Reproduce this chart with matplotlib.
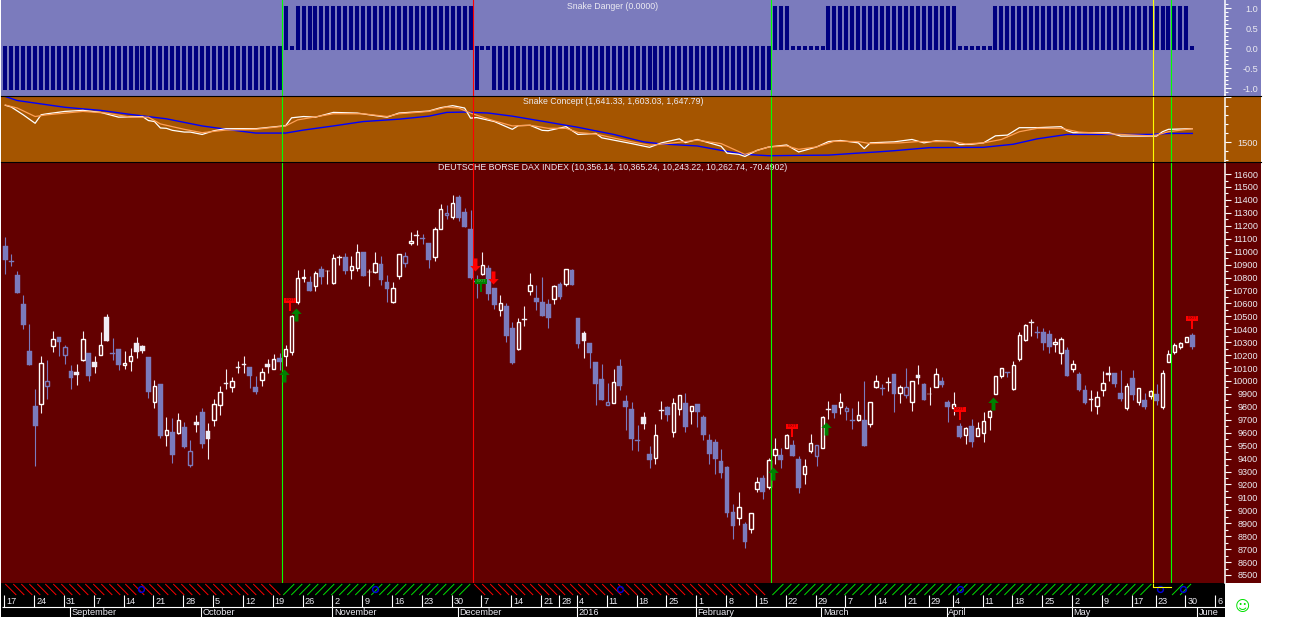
import matplotlib
matplotlib.use('Agg')
import matplotlib.pyplot as plt
from matplotlib.collections import LineCollection
from matplotlib.patches import Rectangle
from matplotlib.path import Path
from matplotlib.ticker import FixedLocator, FixedFormatter

plt.rcParams['font.family'] = ['Liberation Sans', 'DejaVu Sans']

# DAX daily candles, one entry per bar
body_top = [
    11043, 10927, 10819, 10595, 10231, 9806, 10136, 9997, 10321, 10340,
    10260, 10077, 10069, 10321, 10216, 10146, 10275, 10494, 10215, 10247,
    10136, 10190, 10291, 10267, 10185, 9958, 9976, 9618, 9605, 9695,
    9644, 9456, 9682, 9760, 9613, 9819, 9912, 9981, 9997, 10108,
    10131, 10108, 9953, 10066, 10131, 10167, 10180, 10244, 10499, 10793,
    10806, 10762, 10832, 10863, 10852, 10950, 10955, 10955, 10891, 10994,
    10994, 10845, 10914, 10901, 10762, 10716, 10979, 10963, 11084, 11128,
    11105, 11064, 11172, 11327, 11296, 11378, 11419, 11303, 11172, 10770,
    10894, 10870, 10718, 10605, 10579, 10409, 10453, 10479, 10739, 10641,
    10610, 10595, 10731, 10749, 10863, 10858, 10486, 10370, 10293, 10146,
    10015, 9834, 9989, 10115, 9845, 9783, 9541, 9721, 9435, 9579,
    9775, 9798, 9827, 9889, 9829, 9804, 9822, 9721, 9543, 9528,
    9381, 9335, 8987, 9023, 8894, 8976, 9216, 9249, 9386, 9471,
    9427, 9579, 9505, 9396, 9340, 9517, 9502, 9724, 9783, 9814,
    9834, 9788, 9698, 9734, 9698, 9835, 9997, 9943, 9989, 10054,
    9956, 9956, 9997, 10046, 9977, 9902, 10051, 10000, 9837, 9825,
    9652, 9634, 9649, 9634, 9688, 9765, 10036, 10098, 10067, 10121,
    10353, 10430, 10453, 10379, 10379, 10363, 10304, 10322, 10239, 10129,
    10054, 9930, 9861, 9873, 9982, 10059, 10062, 9907, 9959, 10023,
    9948, 9853, 9920, 9899, 10059, 10206, 10276, 10291, 10337, 10355,
]
body_bot = [
    10937, 10922, 10682, 10435, 10126, 9654, 9819, 9958, 10273, 10301,
    10203, 10025, 10048, 10164, 10041, 10110, 10203, 10311, 10211, 10126,
    10121, 10157, 10226, 10234, 9917, 9840, 9577, 9585, 9430, 9600,
    9492, 9347, 9662, 9515, 9554, 9695, 9811, 9974, 9950, 10102,
    10126, 10041, 9917, 10005, 10110, 10090, 10149, 10190, 10221, 10613,
    10793, 10698, 10731, 10806, 10847, 10754, 10948, 10852, 10855, 10876,
    10814, 10840, 10845, 10783, 10713, 10608, 10814, 10909, 11064, 11123,
    11100, 10937, 10961, 11177, 11280, 11270, 11262, 11193, 10798, 10765,
    10829, 10672, 10590, 10546, 10350, 10139, 10244, 10474, 10693, 10610,
    10502, 10486, 10631, 10649, 10752, 10742, 10288, 10309, 10216, 9979,
    9853, 9816, 9832, 9963, 9798, 9551, 9535, 9667, 9389, 9407,
    9770, 9737, 9608, 9785, 9644, 9767, 9760, 9582, 9435, 9396,
    9288, 8979, 8878, 8943, 8755, 8858, 9167, 9141, 9182, 9430,
    9389, 9484, 9420, 9172, 9283, 9461, 9422, 9484, 9778, 9752,
    9801, 9770, 9693, 9700, 9500, 9670, 9956, 9938, 9984, 9899,
    9910, 9894, 9840, 10023, 9853, 9897, 9956, 9969, 9799, 9794,
    9567, 9585, 9526, 9577, 9600, 9719, 9902, 10038, 10062, 9935,
    10167, 10317, 10446, 10373, 10294, 10265, 10288, 10219, 10038, 10093,
    9930, 9830, 9855, 9809, 9933, 10049, 9977, 9861, 9794, 9892,
    9835, 9799, 9881, 9845, 9801, 10144, 10221, 10260, 10299, 10265,
]
highs = [
    11113, 10979, 10850, 10662, 10440, 9935, 10190, 10159, 10386, 10340,
    10278, 10121, 10128, 10386, 10216, 10190, 10376, 10515, 10332, 10247,
    10229, 10252, 10340, 10278, 10185, 10005, 9976, 9718, 9711, 9749,
    9680, 9541, 9737, 9788, 9675, 9858, 9958, 10090, 10028, 10151,
    10190, 10108, 10038, 10097, 10167, 10208, 10213, 10275, 10510, 10858,
    10863, 10809, 10850, 10888, 10858, 10979, 10971, 10986, 10966, 11056,
    10994, 10863, 10997, 10963, 10816, 10762, 10979, 10994, 11149, 11164,
    11133, 11064, 11187, 11368, 11360, 11437, 11437, 11334, 11321, 10816,
    10997, 10894, 10718, 10662, 10602, 10455, 10486, 10579, 10832, 10742,
    10803, 10633, 10742, 10765, 10863, 10865, 10486, 10386, 10293, 10146,
    10131, 9984, 10092, 10169, 9891, 9837, 9659, 9760, 9497, 9667,
    9845, 9806, 9865, 9889, 9907, 9804, 9822, 9737, 9590, 9551,
    9474, 9342, 9048, 9141, 8909, 8976, 9257, 9273, 9404, 9559,
    9481, 9587, 9543, 9420, 9396, 9590, 9502, 9731, 9845, 9814,
    9907, 9806, 9791, 9845, 10000, 9835, 10044, 9977, 10028, 10054,
    9971, 10100, 9997, 10123, 9982, 9951, 10098, 10028, 9853, 9912,
    9675, 9644, 9706, 9683, 9760, 9776, 10036, 10098, 10069, 10154,
    10379, 10440, 10479, 10425, 10410, 10394, 10332, 10340, 10263, 10162,
    10069, 9969, 9930, 9922, 10077, 10116, 10062, 10085, 9982, 10085,
    9948, 9907, 9930, 9977, 10085, 10237, 10291, 10299, 10337, 10371,
]
lows = [
    10829, 10888, 10682, 10404, 10126, 9345, 9755, 9863, 10226, 10195,
    10133, 9940, 9971, 10157, 10002, 10064, 10203, 10311, 10164, 10087,
    10095, 10079, 10180, 10218, 9871, 9793, 9561, 9499, 9368, 9592,
    9484, 9337, 9608, 9484, 9399, 9654, 9739, 9940, 9917, 10064,
    10064, 9948, 9901, 9963, 10064, 10090, 10087, 10118, 10203, 10597,
    10767, 10698, 10698, 10752, 10752, 10752, 10894, 10829, 10791, 10852,
    10814, 10736, 10837, 10744, 10613, 10605, 10791, 10883, 11048, 11053,
    11061, 10876, 10930, 11177, 11252, 11252, 11239, 11193, 10790, 10644,
    10819, 10626, 10559, 10504, 10303, 10131, 10239, 10427, 10667, 10548,
    10502, 10412, 10597, 10633, 10736, 10742, 10254, 10180, 10102, 9814,
    9853, 9816, 9832, 9930, 9621, 9466, 9458, 9628, 9327, 9358,
    9706, 9690, 9566, 9737, 9605, 9667, 9644, 9543, 9358, 9280,
    9250, 8948, 8778, 8889, 8708, 8824, 9144, 9087, 9164, 9358,
    9327, 9484, 9420, 9133, 9203, 9443, 9342, 9484, 9706, 9713,
    9744, 9698, 9628, 9693, 9500, 9647, 9948, 9892, 9925, 9760,
    9830, 9868, 9770, 9977, 9853, 9814, 9951, 9956, 9683, 9737,
    9559, 9513, 9490, 9577, 9528, 9621, 9902, 10023, 10031, 9930,
    10154, 10309, 10348, 10332, 10239, 10216, 10224, 10131, 10038, 10069,
    9922, 9822, 9768, 9745, 9884, 10000, 9953, 9845, 9776, 9853,
    9814, 9783, 9861, 9814, 9783, 10144, 10209, 10247, 10299, 10247,
]
# B filled blue, H hollow blue, W hollow white, F filled white
kinds = (
    'BBBBBBWHWB' 'HBFWBFWFBB' 'WWFFBWBWBW' 'BHFBFWWFWF'
    'FBBWFWBWWW' 'WBWBFWFBWW' 'BFWBBWWHWF' 'BBWWHWBBBB'
    'WBBWBBWFWB' 'BBWBWBBFBB' 'BHWBBBBFBW' 'FBWWBWBBBB'
    'BBBWBWWBWW' 'BWBBWWHWFB' 'WHBWBWWBFB' 'WHWFBFWBBW'
    'BWBWWWWWBW' 'WWFBBBWWBW' 'BBFWWFBBWB' 'WBWBWWWWWB'
)

# Snake Danger state per bar
danger = [
    -1, -1, -1, -1, -1, -1, -1, -1, -1, -1, -1, -1, -1, -1, -1, -1, -1, -1, -1, -1,
    -1, -1, -1, -1, -1, -1, -1, -1, -1, -1, -1, -1, -1, -1, -1, -1, -1, -1, -1, -1,
    -1, -1, -1, -1, -1, -1, -1, 1, 0, 1, 1, 1, 1, 1, 1, 1, 1, 1, 1, 1,
    1, 1, 1, 1, 1, 1, 1, 1, 1, 1, 1, 1, 1, 1, 1, 1, 1, 1, 1, -1,
    0, 0, -1, -1, -1, -1, -1, -1, -1, -1, -1, -1, -1, -1, -1, -1, -1, -1, -1, -1,
    -1, -1, -1, -1, -1, -1, -1, -1, -1, -1, -1, -1, -1, -1, -1, -1, -1, -1, -1, -1,
    -1, -1, -1, -1, -1, -1, -1, -1, -1, 1, 1, 1, 0, 0, 0, 0, 0, 0, 1, 1,
    1, 1, 1, 1, 1, 1, 1, 1, 1, 1, 1, 1, 1, 1, 1, 1, 1, 1, 1, 1,
    0, 0, 0, 0, 0, 0, 1, 1, 1, 1, 1, 1, 1, 1, 1, 1, 1, 1, 1, 1,
    1, 1, 1, 1, 1, 1, 1, 1, 1, 1, 1, 1, 1, 1, 1, 1, 1, 1, 1, 0,
]

# Snake Concept lines, sampled where they bend
blue_x = [0, 2, 6, 10, 16, 21, 27, 33, 38, 42, 47, 50, 55, 60, 66, 71, 74, 77, 81, 85,
          91, 96, 102, 107, 110, 116, 120, 124, 128, 133, 138, 143, 146, 149, 155, 164,
          169, 173, 178, 183, 192, 195, 199]
blue_y = [2000, 1956, 1919, 1882, 1848, 1804, 1756, 1678, 1633, 1600, 1600, 1633, 1678,
          1726, 1752, 1785, 1826, 1830, 1819, 1785, 1719, 1663, 1585, 1504, 1481, 1459,
          1411, 1367, 1352, 1356, 1359, 1381, 1393, 1407, 1441, 1444, 1478, 1537, 1585,
          1585, 1585, 1596, 1596]
orange_x = [0, 2, 5, 7, 13, 17, 21, 24, 26, 30, 33, 37, 42, 47, 49, 55, 60, 64, 66, 71,
            74, 76, 78, 81, 85, 88, 91, 94, 96, 99, 105, 108, 111, 116, 120, 124, 128,
            131, 133, 136, 139, 143, 145, 150, 153, 159, 161, 164, 167, 170, 173, 177,
            180, 187, 192, 193, 195, 199]
orange_y = [1907, 1874, 1781, 1800, 1837, 1819, 1774, 1774, 1700, 1641, 1604, 1633, 1641,
            1678, 1744, 1811, 1811, 1781, 1811, 1837, 1885, 1874, 1819, 1752, 1678, 1685,
            1652, 1652, 1607, 1589, 1504, 1467, 1485, 1522, 1485, 1367, 1448, 1459, 1422,
            1448, 1511, 1507, 1485, 1493, 1507, 1507, 1481, 1493, 1530, 1615, 1652, 1652,
            1611, 1585, 1570, 1578, 1615, 1648]
white_x = [0, 1, 3, 5, 6, 7, 10, 13, 16, 19, 23, 24, 25, 26, 27, 28, 30, 31, 33, 35, 37,
           42, 47, 48, 50, 52, 55, 59, 61, 64, 66, 71, 73, 75, 77, 78, 79, 82, 85, 86,
           88, 90, 91, 94, 96, 99, 100, 105, 108, 110, 113, 114, 116, 120, 121, 123, 124,
           126, 128, 131, 133, 136, 138, 140, 143, 144, 145, 149, 152, 154, 156, 159, 160,
           162, 164, 166, 168, 170, 173, 177, 178, 179, 183, 185, 187, 191, 193, 194, 195, 199]
white_y = [1904, 1885, 1800, 1707, 1800, 1811, 1837, 1848, 1826, 1774, 1781, 1737, 1726,
           1656, 1652, 1630, 1611, 1611, 1585, 1626, 1648, 1648, 1681, 1767, 1781, 1774,
           1826, 1819, 1800, 1774, 1819, 1841, 1878, 1900, 1874, 1763, 1770, 1726, 1641,
           1681, 1685, 1630, 1626, 1670, 1585, 1596, 1548, 1485, 1444, 1493, 1537, 1496,
           1530, 1456, 1381, 1367, 1344, 1411, 1448, 1470, 1393, 1448, 1507, 1519, 1493,
           1430, 1493, 1504, 1530, 1493, 1515, 1507, 1474, 1478, 1493, 1570, 1578, 1659,
           1659, 1670, 1626, 1604, 1604, 1604, 1567, 1567, 1567, 1615, 1641, 1648]

# signals
signal_bars = [46.47, 78.46, 128.4, 192.46, 195.5]
signal_colors = ['#00ff00', '#ff0000', '#00ff00', '#ffff00', '#00ff00']
up_x = [46.7, 48.7, 128.7, 137.6, 165.6]
up_price = [10090, 10564, 9332, 9680, 9874]
down_x = [78.8, 81.8]
down_price = [10852, 10752]
flag_x = [47.8, 79.8, 131.9, 160, 199]
flag_price = [10541, 10690, 9566, 9698, 10402]
flag_colors = ['#ff0000', '#008000', '#ff0000', '#ff0000', '#ff0000']
circle_x = [22.7, 62, 103, 160, 193.5, 197.4]

# date axis
day_x = [0, 5, 10, 15, 20, 25, 30, 35, 40, 45, 50, 55, 60, 65, 70, 75, 80, 85, 90, 93, 96,
         101, 106, 111, 116, 121, 126, 131, 136, 141, 146, 151, 155, 159, 164, 169, 174,
         179, 184, 189, 193, 198, 203]
day_labels = ['17', '24', '31', '7', '14', '21', '28', '5', '12', '19', '26', '2', '9', '16',
              '23', '30', '7', '14', '21', '28', '4', '11', '18', '25', '1', '8', '15', '22',
              '29', '7', '14', '21', '29', '4', '11', '18', '25', '2', '9', '17', '23', '30', '6']
month_x = [11, 33, 55, 76, 96, 116, 137, 158, 179, 200]
month_labels = ['September', 'October', 'November', 'December', '2016', 'February', 'March',
                'April', 'May', 'June']

W, H = 1293, 617
PLOT_L, PLOT_R, AXIS_R = 1, 1225, 1261
BG_TOP, BG_MID, BG_MAIN = '#7b7bbd', '#a55500', '#630000'
NAVY = '#000080'
LIGHT = '#ecebf2'
STEP = 5.965
X0 = 5.3
XMIN = (PLOT_L - X0) / STEP
XMAX = (PLOT_R - X0) / STEP


def add_panel(top, bottom, right=PLOT_R):
    return fig.add_axes([PLOT_L / W, 1 - bottom / H, (right - PLOT_L) / W, (bottom - top) / H])


def style_price_axis(ax, major, labels, minor):
    ax.set_xlim(XMIN, XMAX)
    ax.set_xticks([])
    ax.yaxis.tick_right()
    ax.yaxis.set_major_locator(FixedLocator(major))
    ax.yaxis.set_major_formatter(FixedFormatter(labels))
    ax.yaxis.set_minor_locator(FixedLocator(minor))
    ax.tick_params(axis='y', which='major', length=4.3, width=0.8, color='white',
                   labelcolor=LIGHT, labelsize=6.6, pad=19.4)
    ax.tick_params(axis='y', which='minor', length=2.2, width=0.8, color='white')
    for lab in ax.get_yticklabels():
        lab.set_ha('right')
    for side in ['left', 'top', 'bottom']:
        ax.spines[side].set_visible(False)
    ax.spines['right'].set_color('white')
    ax.spines['right'].set_linewidth(1.1)


fig = plt.figure(figsize=(W / 100, H / 100), dpi=100, facecolor='white')

# right hand side background behind the tick labels
for top, bottom, color in [(0, 95.5, BG_TOP), (95.5, 161.5, BG_MID), (161.5, 583, BG_MAIN)]:
    fig.add_artist(Rectangle((PLOT_R / W, 1 - bottom / H), (AXIS_R - PLOT_R) / W, (bottom - top) / H,
                             transform=fig.transFigure, facecolor=color, edgecolor='none', zorder=-1))

ax_top = add_panel(0, 95.5)
ax_mid = add_panel(95.5, 161.5)
ax_main = add_panel(161.5, 583)
ax_date = add_panel(583, 617)

# Snake Danger
ax_top.set_facecolor(BG_TOP)
xs = list(range(len(danger)))
bar_x = [x for x, v in zip(xs, danger) if v != 0]
bar_v = [v for v in danger if v != 0]
ax_top.vlines(bar_x, 0, bar_v, colors=NAVY, linewidth=2.9, capstyle='projecting')
ax_top.scatter([x for x, v in zip(xs, danger) if v == 0], [0 for v in danger if v == 0],
               marker='s', s=7, color=NAVY, linewidths=0)
ax_top.set_ylim(-1.1875, 1.2)
style_price_axis(ax_top, [-1, -0.5, 0, 0.5, 1], ['-1.0', '-0.5', '0.0', '0.5', '1.0'],
                 [-1.1, -0.9, -0.8, -0.7, -0.6, -0.4, -0.3, -0.2, -0.1,
                  0.1, 0.2, 0.3, 0.4, 0.6, 0.7, 0.8, 0.9, 1.1])
ax_top.text(0.5, 1 - 6.5 / 95.5, 'Snake Danger (0.0000)', transform=ax_top.transAxes, ha='center',
            va='center', color=LIGHT, fontsize=6.3)

# Snake Concept
ax_mid.set_facecolor(BG_MID)
ax_mid.plot(blue_x, blue_y, color='#0000ff', lw=1.0)
ax_mid.plot(white_x, white_y, color='white', lw=0.9)
ax_mid.plot(orange_x, orange_y, color='#ff9f55', lw=0.9)
ax_mid.set_ylim(1289, 2011)
style_price_axis(ax_mid, [1500, 2000], ['1500', ''], [1300, 1400, 1600, 1700, 1800, 1900])
ax_mid.text(0.5, 1 - 6.5 / 66, 'Snake Concept (1,641.33, 1,603.03, 1,647.79)', transform=ax_mid.transAxes,
            ha='center', va='center', color=LIGHT, fontsize=6.3)

# candles
ax_main.set_facecolor(BG_MAIN)
wick_colors = [BG_TOP if k in 'BH' else '#f2ecf2' for k in kinds]
ax_main.vlines(range(len(kinds)), lows, highs, colors=wick_colors, linewidth=0.8, zorder=2)
for i, k in enumerate(kinds):
    h = body_top[i] - body_bot[i]
    if k in 'BF':
        c = BG_TOP if k == 'B' else '#f0ecf4'
        ax_main.bar(i, h, 0.8, bottom=body_bot[i], facecolor=c, edgecolor=c, linewidth=0.3, zorder=3)
    else:
        c = BG_TOP if k == 'H' else 'white'
        ax_main.bar(i, h, 0.58, bottom=body_bot[i], facecolor=BG_MAIN, edgecolor=c, linewidth=1.0, zorder=3)

# custom markers are scaled so that a vertex at 1 sits half a markersize from the centre
up_arrow = Path([(0, 0), (0.4, -0.42), (0.15, -0.42), (0.15, -1), (-0.15, -1), (-0.15, -0.42), (-0.4, -0.42), (0, 0)], closed=True)
down_arrow = Path([(0, 0), (0.4, 0.42), (0.15, 0.42), (0.15, 1), (-0.15, 1), (-0.15, 0.42), (-0.4, 0.42), (0, 0)], closed=True)
flag_mark = Path([(-0.07, 0), (0.07, 0), (0.07, 0.64), (0.46, 0.64), (0.46, 1), (-0.46, 1), (-0.46, 0.64), (-0.07, 0.64), (-0.07, 0)], closed=True)
ax_main.plot(up_x, up_price, ls='none', marker=up_arrow, ms=18.8, mfc='#008000', mec='#008000', mew=0, zorder=5)
ax_main.plot(down_x, down_price, ls='none', marker=down_arrow, ms=18.8, mfc='#ff0000', mec='#ff0000', mew=0, zorder=5)
for x, p, c in zip(flag_x, flag_price, flag_colors):
    ax_main.plot([x], [p], ls='none', marker=flag_mark, ms=18.8, mfc=c, mec=c, mew=0, zorder=5)
    ax_main.annotate('EXIT', (x, p), xytext=(0, 7.7), textcoords='offset points', ha='center', va='center',
                     fontsize=3.2, color='#7a0000' if c == '#ff0000' else '#50c050', zorder=6)

ax_main.set_ylim(8438, 11697)
major_prices = list(range(8500, 11700, 100))
style_price_axis(ax_main, major_prices, [str(p) for p in major_prices],
                 [p + 50 for p in major_prices[:-1]])
ax_main.text(0.5, 1 - 6 / 421.5, 'DEUTSCHE BORSE DAX INDEX (10,356.14, 10,365.24, 10,243.22, 10,262.74, -70.4902)',
             transform=ax_main.transAxes, ha='center', va='center', color=LIGHT, fontsize=6.3)

# signal lines through all three panels
for x, c in zip(signal_bars, signal_colors):
    for ax in (ax_top, ax_mid, ax_main):
        ax.axvline(x, color=c, lw=0.8, zorder=4)

# black lines between the panels
for y in (95.5, 161.5):
    fig.add_artist(plt.Line2D([PLOT_L / W, AXIS_R / W], [1 - y / H, 1 - y / H], color='black', lw=0.8,
                              transform=fig.transFigure))

# signal strip and date axis, y in pixels from the top of the picture
ax_date.set_facecolor('black')
ax_date.set_xlim(XMIN, XMAX)
ax_date.set_ylim(617, 583)
ax_date.axis('off')
fig.add_artist(Rectangle((PLOT_L / W, 0), (PLOT_R - PLOT_L) / W, 34 / H, transform=fig.transFigure,
                         facecolor='black', edgecolor='none', zorder=-1))

hatch_runs = [(0, 46.4, '#ff0000', -1), (46.6, 78.4, '#00e000', 1), (78.6, 128.4, '#ff0000', -1),
              (128.6, 192.4, '#00e000', 1), (195.6, 199.8, '#00e000', 1)]
run_dx = 11 / STEP
for start, end, c, sign in hatch_runs:
    segs = []
    x = start
    while x + run_dx <= end:
        if sign < 0:
            segs.append([(x, 584), (x + run_dx, 595)])
        else:
            segs.append([(x, 595), (x + run_dx, 584)])
        x += 8 / STEP
    ax_date.add_collection(LineCollection(segs, colors=c, linewidths=0.7))

ax_date.plot(circle_x, [588.5] * len(circle_x), ls='none', marker='o', ms=4.2, mfc='none', mec='#0000e0', mew=1.0)
ax_date.plot([192.46, 195.5], [587, 587], color='#ffff00', lw=0.8)
ax_date.vlines(192.46, 583, 587, color='#ffff00', lw=0.8)

ax_date.hlines(606.5, XMIN + 0.2, XMAX, color='white', lw=0.8)
tick_shift = -0.17
for x, lab in zip(day_x, day_labels):
    ax_date.vlines(x + tick_shift, 595, 606.5, color='white', lw=0.8)
    ax_date.text(x + tick_shift + 0.35, 601, lab, color=LIGHT, fontsize=6.6, ha='left', va='center')
for x, lab in zip(month_x, month_labels):
    ax_date.vlines(x + tick_shift, 606.5, 617, color='white', lw=0.8)
    ax_date.text(x + tick_shift + 0.25, 612.3, lab, color=LIGHT, fontsize=6.6, ha='left', va='center')

fig.text(1242 / W, 1 - 607 / H, '\u263a', color='#00e000', fontsize=10.5, ha='center', va='center',
         family=['DejaVu Sans'])

fig.savefig('out.png', dpi=100, facecolor='white')
